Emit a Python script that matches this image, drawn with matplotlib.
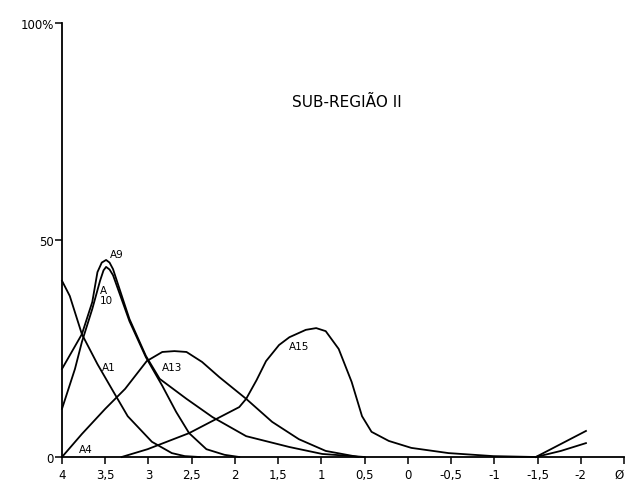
import matplotlib
matplotlib.use('Agg')
import matplotlib.pyplot as plt

# curves (x = phi class, y = %)
a1_x = [4.00, 3.91, 3.77, 3.59, 3.41, 3.24, 2.96, 2.73, 2.58, 2.41]
a1_y = [40.6, 37.1, 28.3, 21.4, 15.2, 9.4, 3.5, 0.9, 0.2, 0.0]

a9_x = [4.00, 3.77, 3.65, 3.59, 3.54, 3.49, 3.45, 3.41, 3.27, 3.22, 3.03, 2.87, 2.56, 2.26, 1.87, 1.37, 0.99, 0.50]
a9_y = [20.3, 28.3, 35.7, 42.6, 44.8, 45.4, 44.8, 43.3, 34.8, 31.8, 23.3, 18.0, 13.4, 9.2, 4.8, 2.3, 0.7, 0.0]

a10_x = [4.00, 3.85, 3.77, 3.65, 3.56, 3.52, 3.49, 3.45, 3.41, 3.27, 3.22, 3.03, 2.84, 2.68, 2.53, 2.33, 2.12, 1.95]
a10_y = [11.1, 20.3, 26.5, 34.1, 40.6, 43.0, 43.8, 43.2, 41.9, 34.1, 31.3, 23.0, 16.4, 10.4, 5.5, 1.8, 0.5, 0.0]

a13_x = [4.00, 3.77, 3.50, 3.27, 3.02, 2.84, 2.70, 2.56, 2.38, 2.18, 1.87, 1.57, 1.26, 0.95, 0.57]
a13_y = [0.0, 5.3, 11.1, 15.7, 22.1, 24.2, 24.4, 24.2, 21.9, 18.4, 13.4, 8.1, 4.1, 1.4, 0.0]

a15_x = [3.31, 3.01, 2.53, 2.26, 1.95, 1.87, 1.75, 1.64, 1.49, 1.37, 1.18, 1.06, 0.95, 0.80,
         0.65, 0.53, 0.42, 0.22, -0.04, -0.47, -0.99, -1.48]
a15_y = [0.0, 1.8, 5.5, 8.3, 11.5, 13.4, 17.7, 22.1, 25.8, 27.6, 29.3, 29.7, 29.0, 24.9,
         17.3, 9.4, 5.8, 3.7, 2.1, 0.9, 0.2, 0.0]

# two short unlabelled curves at the right end
tail_x = [-1.48, -1.77, -2.06]
tail_hi_y = [0.0, 3.0, 6.0]
tail_lo_y = [0.0, 1.4, 3.2]

xticks = [4, 3.5, 3, 2.5, 2, 1.5, 1, 0.5, 0, -0.5, -1, -1.5, -2, -2.5]
xlabels = ['4', '3,5', '3', '2,5', '2', '1,5', '1', '0,5', '0', '-0,5', '-1', '-1,5', '-2', 'Ø']
yticks = [0, 50, 100]
ylabels = ['0', '50', '100%']

fig = plt.figure(figsize=(6.28, 4.81), dpi=100)
ax = fig.add_axes([62/628, 23/481, 562/628, 434/481])

lw = 1.3
for xs, ys in [(a1_x, a1_y), (a9_x, a9_y), (a10_x, a10_y), (a13_x, a13_y), (a15_x, a15_y),
               (tail_x, tail_hi_y), (tail_x, tail_lo_y)]:
    ax.plot(xs, ys, color='black', lw=lw, solid_joinstyle='round', clip_on=False)

ax.set_xlim(4, -2.5)
ax.set_ylim(0, 100)
ax.spines['top'].set_visible(False)
ax.spines['right'].set_visible(False)
ax.spines['left'].set_linewidth(lw)
ax.spines['bottom'].set_linewidth(lw)

ax.set_xticks(xticks)
ax.set_xticklabels(xlabels, fontsize=8.5)
ax.get_xticklabels()[-1].set_horizontalalignment('right')
ax.set_yticks(yticks)
ax.set_yticklabels(ylabels, fontsize=8.5)
ax.tick_params(axis='x', direction='out', length=5, width=1.1, pad=3)
ax.tick_params(axis='y', direction='out', length=5, width=1.1, pad=1)

lab = dict(fontsize=7.5, color='black')
ax.text(3.37, 46.8, 'A9', ha='center', va='center', **lab)
ax.text(3.56, 37.3, 'A\n10', ha='left', va='center', linespacing=0.95, **lab)
ax.text(3.54, 20.7, 'A1', ha='left', va='center', **lab)
ax.text(2.85, 20.7, 'A13', ha='left', va='center', **lab)
ax.text(1.37, 25.6, 'A15', ha='left', va='center', **lab)
ax.text(3.80, 1.8, 'A4', ha='left', va='center', **lab)

ax.text(0.70, 82.0, 'SUB-REGIÃO II', ha='center', va='center', fontsize=11)

fig.savefig('out.png', dpi=100)
